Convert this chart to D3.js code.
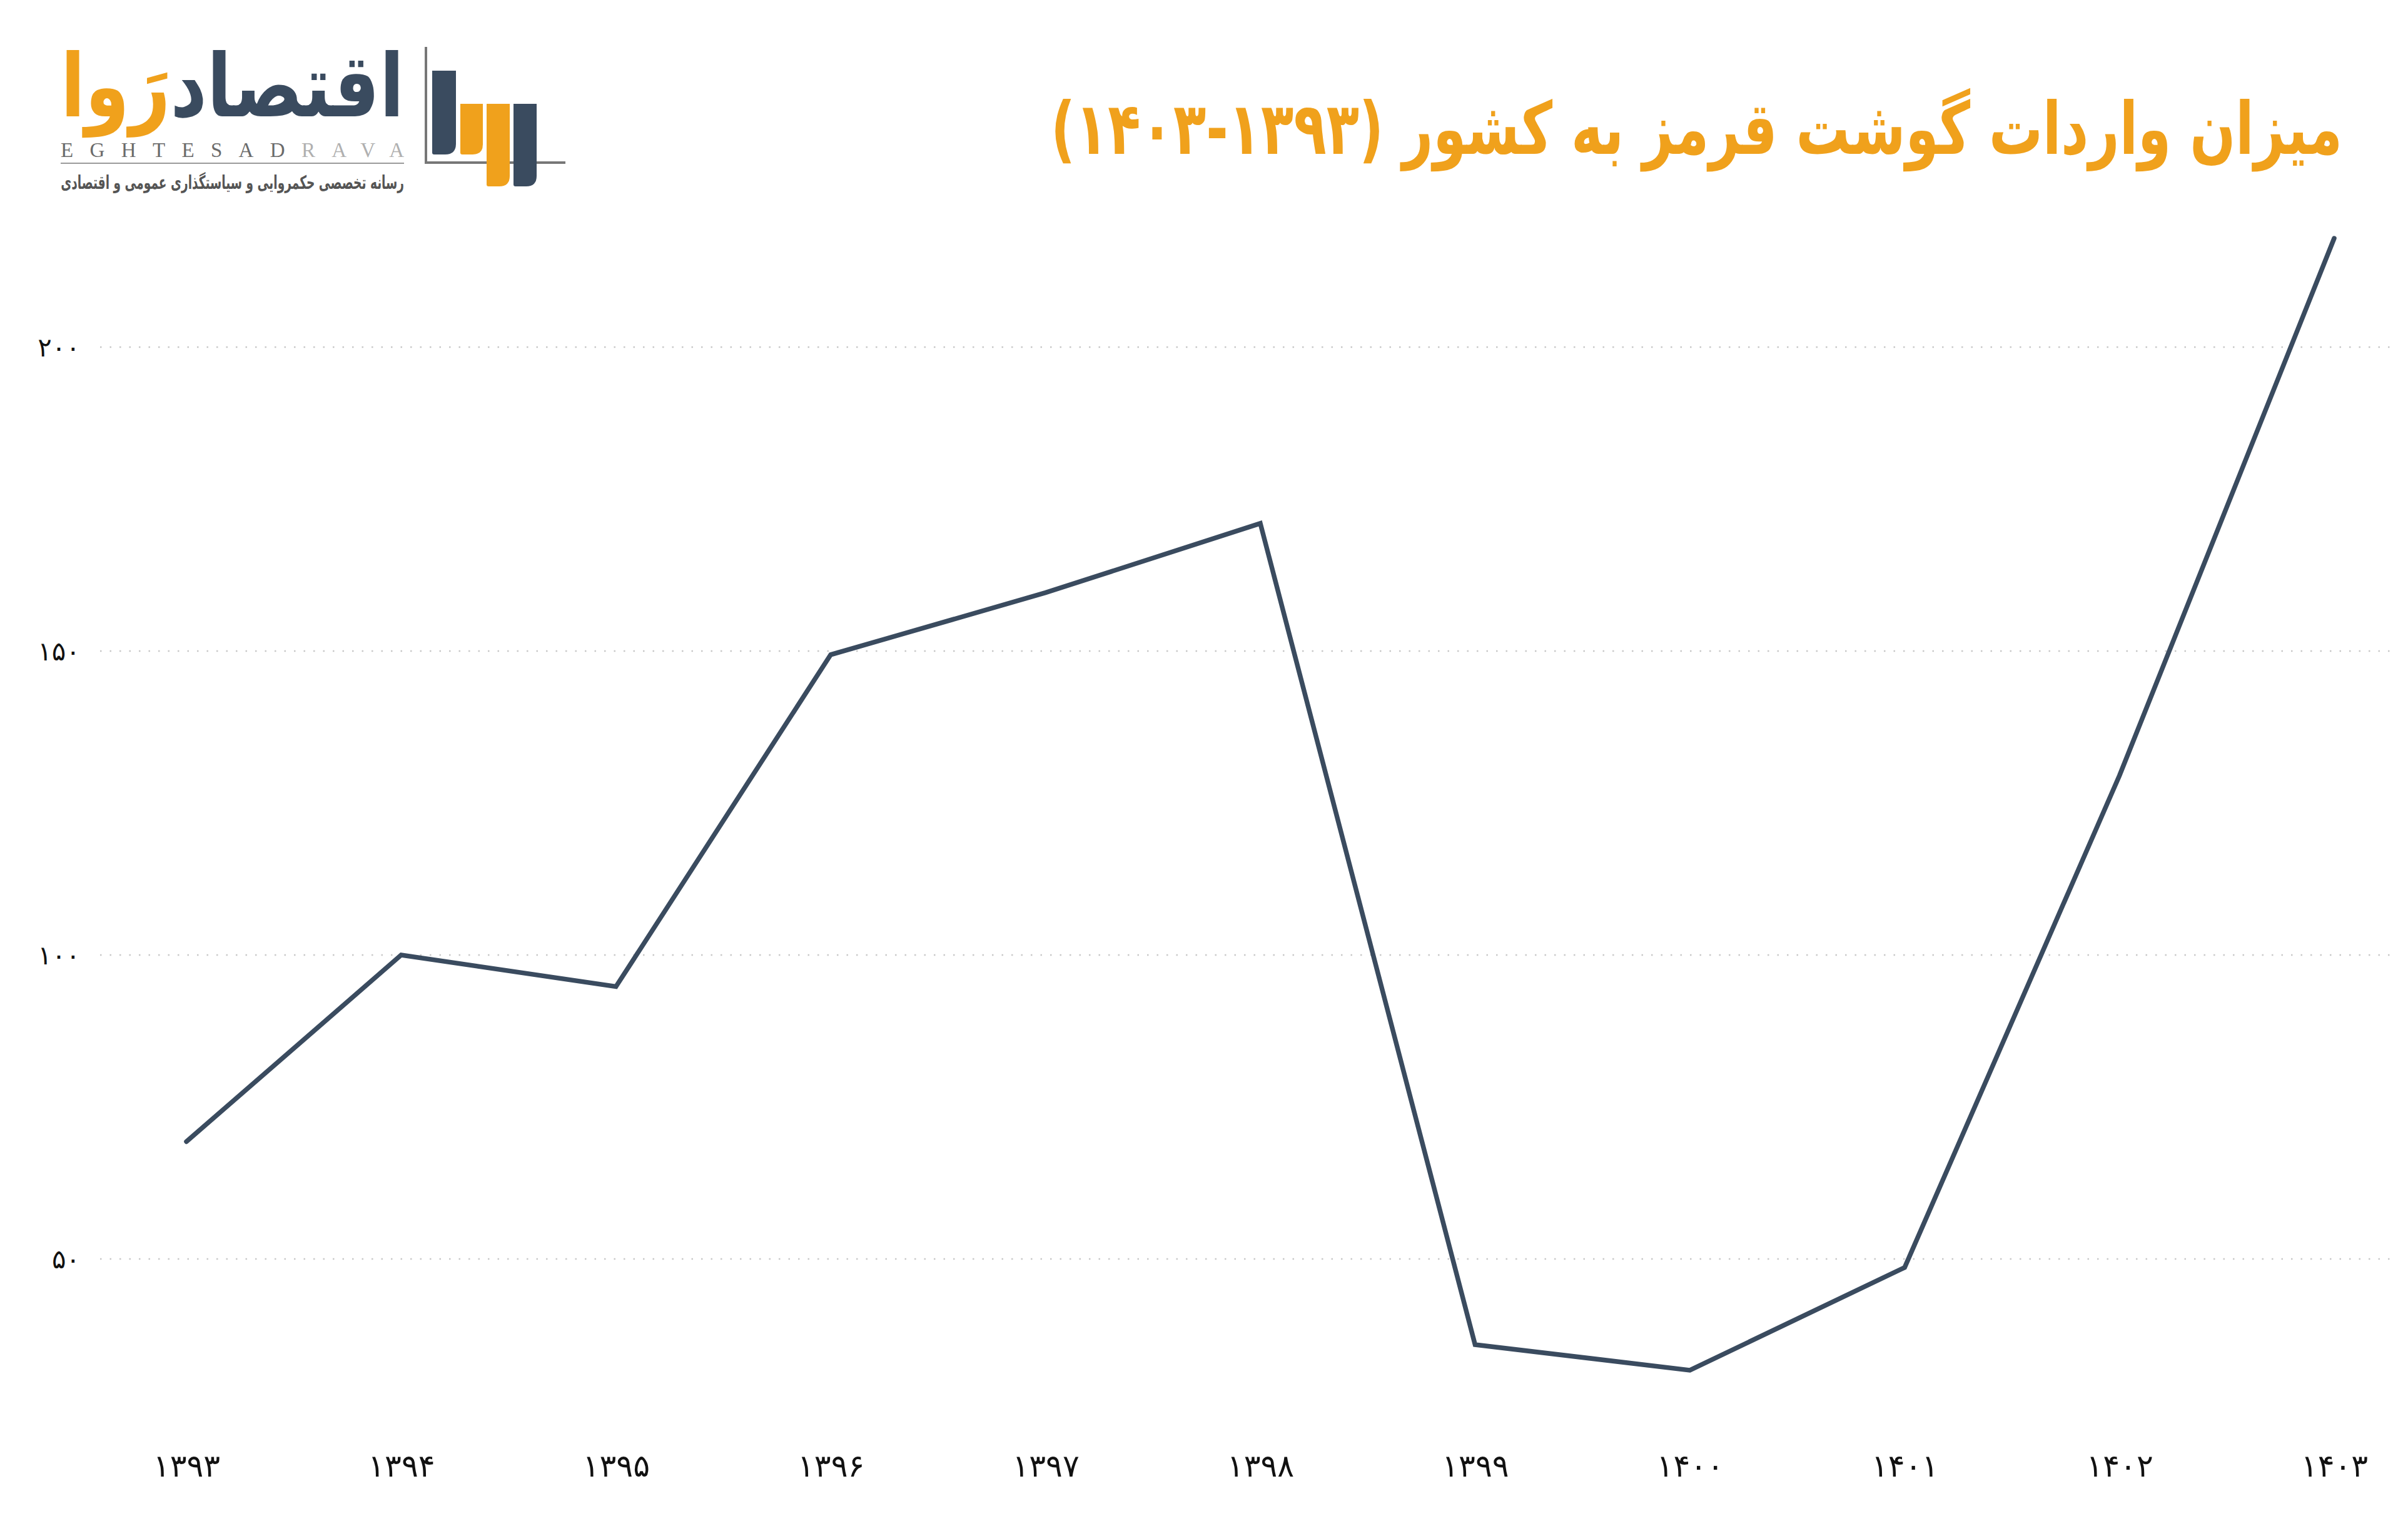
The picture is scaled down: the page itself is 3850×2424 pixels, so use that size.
<!DOCTYPE html>
<html>
<head>
<meta charset="utf-8">
<script src="https://cdn.jsdelivr.net/npm/d3@7/dist/d3.min.js"></script>
<style>
  html, body { margin: 0; padding: 0; background: #ffffff; }
  svg { display: block; }
</style>
</head>
<body>
<script>
// ---- data ----
const years = ['۱۳۹۳','۱۳۹۴','۱۳۹۵','۱۳۹۶','۱۳۹۷','۱۳۹۸','۱۳۹۹','۱۴۰۰','۱۴۰۱','۱۴۰۲','۱۴۰۳'];
const values = [69.3, 100, 94.8, 149.4, 159.6, 171.0, 35.9, 31.7, 48.6, 129.5, 217.9];
const yTicks = [50, 100, 150, 200];
const yTickLabels = ['۵۰', '۱۰۰', '۱۵۰', '۲۰۰'];
const titleText = 'میزان واردات گوشت قرمز به کشور (۱۳۹۳-۱۴۰۳)';
const logoMain = 'اقتصاد';
const logoAccent = 'رَوا';
const logoLatin = 'EGHTESAD';
const logoLatinAccent = 'RAVA';
const logoTagline = 'رسانه تخصصی حکمروایی و سیاستگذاری عمومی و اقتصادی';

// ---- layout ----
const W = 3850, H = 2424;
const DARK = '#3a4b5f', ORANGE = '#f0a11c';
const FA = "'DejaVu Sans', 'Noto Sans', sans-serif";

const svg = d3.select('body').append('svg').attr('width', W).attr('height', H);
svg.append('rect').attr('width', W).attr('height', H).attr('fill', '#fff');

const x = d3.scalePoint().domain(years).range([298, 3732]);
const y = d3.scaleLinear().domain([0, 200]).range([2499, 555]);

// gridlines
const grid = svg.append('g');
grid.selectAll('line').data(yTicks).join('line')
  .attr('x1', 160).attr('x2', W - 20)
  .attr('y1', d => y(d)).attr('y2', d => y(d))
  .attr('stroke', '#c8c8c8').attr('stroke-width', 2.5)
  .attr('stroke-dasharray', '2.5,13');

// y axis (labels only)
const yAxis = d3.axisLeft(y).tickValues(yTicks)
  .tickFormat((d, i) => yTickLabels[i]).tickSize(0).tickPadding(0);
const gy = svg.append('g').attr('transform', 'translate(128,0)').call(yAxis);
gy.select('.domain').remove();
gy.selectAll('text').attr('font-family', FA).attr('font-size', 42)
  .attr('fill', '#111').attr('dy', '0.35em');

// x axis (labels only)
const xAxis = d3.axisBottom(x).tickSize(0).tickPadding(0);
const gx = svg.append('g').attr('transform', 'translate(0,2343)').call(xAxis);
gx.select('.domain').remove();
gx.selectAll('text').attr('font-family', FA).attr('font-size', 50)
  .attr('fill', '#111').attr('dy', '0.35em');

// line
const line = d3.line().x((d, i) => x(years[i])).y(d => y(d));
svg.append('path').datum(values)
  .attr('d', line).attr('fill', 'none')
  .attr('stroke', DARK).attr('stroke-width', 7.5)
  .attr('stroke-linejoin', 'miter').attr('stroke-linecap', 'round');

// helper to fit text width
function fit(sel, targetW) {
  const w = sel.node().getComputedTextLength();
  const fs = parseFloat(sel.attr('font-size'));
  sel.attr('font-size', fs * targetW / w);
  return fs * targetW / w;
}

// title (stretched vertically to match the tall display face)
const title = svg.append('text')
  .attr('transform', 'translate(3745,246) scale(1,1.35)')
  .attr('direction', 'rtl').style('direction', 'rtl')
  .attr('text-anchor', 'start')
  .attr('font-family', FA).attr('font-weight', 'bold')
  .attr('font-size', 100).attr('fill', ORANGE)
  .text(titleText);
fit(title, 2065);

// ---- logo ----
const logo = svg.append('g');
// big word
const bigG = logo.append('g');
const big1 = bigG.append('text').attr('font-family', FA).attr('font-weight', 'bold')
  .attr('font-size', 150).attr('fill', DARK).attr('text-anchor', 'end').text(logoMain);
const big2 = bigG.append('text').attr('font-family', FA).attr('font-weight', 'bold')
  .attr('font-size', 150).attr('fill', ORANGE).attr('text-anchor', 'end').text(logoAccent);
const w1 = big1.node().getComputedTextLength(), w2 = big2.node().getComputedTextLength();
const s = 549 / (w1 + w2);
const bigFs = 150 * s;
big1.attr('font-size', bigFs).attr('x', 646).attr('y', 0);
big2.attr('font-size', bigFs).attr('x', 646 - w1 * s).attr('y', 0);
bigG.attr('transform', `translate(0,186) scale(1,${140 / bigFs})`);

// latin
const lat = logo.append('text').attr('x', 97).attr('y', 251)
  .attr('font-family', "'Liberation Serif', serif").attr('font-size', 33)
  .attr('textLength', 549).attr('lengthAdjust', 'spacing');
lat.append('tspan').attr('fill', '#6b6b6b').text(logoLatin);
lat.append('tspan').attr('fill', '#b0b0b0').text(logoLatinAccent);
logo.append('line').attr('x1', 97).attr('x2', 646).attr('y1', 261).attr('y2', 261)
  .attr('stroke', '#9a9a9a').attr('stroke-width', 2);
const tag = logo.append('text')
  .attr('transform', 'translate(646,302) scale(1,1.6)')
  .attr('text-anchor', 'end').attr('font-family', FA).attr('font-weight', 'bold')
  .attr('font-size', 30).attr('fill', '#555').text(logoTagline);
fit(tag, 549);

// icon
logo.append('line').attr('x1', 681).attr('x2', 681).attr('y1', 75).attr('y2', 262)
  .attr('stroke', '#777').attr('stroke-width', 4);
logo.append('line').attr('x1', 679).attr('x2', 904).attr('y1', 260).attr('y2', 260)
  .attr('stroke', '#777').attr('stroke-width', 4);
function bar(x0, x1, y0, y1, c) {
  const r = (x1 - x0) / 2.2;
  logo.append('path').attr('fill', c).attr('d',
    `M${x0},${y0} H${x1} V${y1 - r} Q${x1},${y1} ${x1 - r},${y1} H${x0 + 3} Q${x0},${y1} ${x0},${y1 - 3} Z`);
}
logo.append('rect').attr('x', 684).attr('y', 250).attr('width', 96).attr('height', 8).attr('fill', '#fff');
bar(691, 729, 113, 247, DARK);
bar(736, 772, 166, 247, ORANGE);
bar(778, 815, 166, 298, ORANGE);
bar(821, 858, 166, 298, DARK);
</script>
</body>
</html>
